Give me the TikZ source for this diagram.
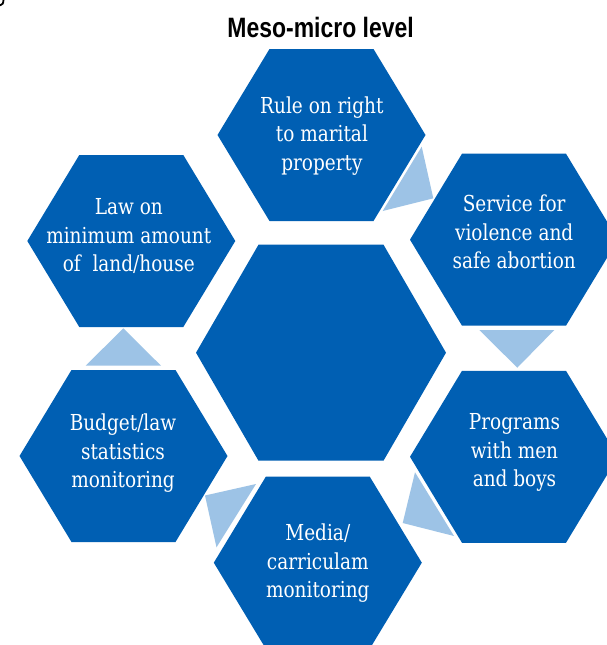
\documentclass[tikz,border=0pt]{standalone}
\usepackage{fontspec}
\setmainfont{DejaVu Serif}
\newfontfamily\labelfont[FakeStretch=0.84]{DejaVu Serif}
\newfontfamily\titlefont[FakeStretch=0.82]{Liberation Sans}

\definecolor{hexblue}{RGB}{0,95,179}
\definecolor{arrowblue}{RGB}{157,195,230}

% flat-topped hexagon: centre x, centre y, half width, half height
\newcommand\hexcell[4]{%
  \fill[hexblue, shift={(#1,#2)}]
    (#3,0) -- (#3/2,#4) -- (-#3/2,#4) -- (-#3,0) -- (-#3/2,-#4) -- (#3/2,-#4) -- cycle;}

\tikzset{
  hexlabel/.style={text=white, align=center, inner sep=0pt,
    font=\labelfont\fontsize{22}{28.5}\selectfont},
  titletext/.style={text=black, inner sep=0pt,
    font=\titlefont\bfseries\fontsize{28}{32}\selectfont},
  cyclearrow/.style={fill=arrowblue}
}

\begin{document}
\begin{tikzpicture}[x=1pt, y=-1pt]
  \useasboundingbox (0,0) rectangle (606,645);
  \fill[white] (0,0) rectangle (606,645);

  % stray mark in the corner
  \draw[black, line width=1.8pt] (3.5,0) .. controls (3,4) .. (0,5.5);

  % title
  \node[titletext, anchor=base] (title) at (320.6,37.5) {Meso-micro level};

  % central hexagon
  \hexcell{321}{352.7}{125}{108}
  \coordinate (core) at (321,352.7);

  % surrounding hexagons
  \hexcell{321.5}{135}{104}{86}
  \hexcell{514}{239.7}{104}{86}
  \hexcell{514}{456.8}{104}{86}
  \hexcell{317.8}{562.7}{104}{86}
  \hexcell{123.5}{456}{104}{86}
  \hexcell{131.3}{241}{104}{86}

  % arrow heads running clockwise between the hexagons
  \fill[cyclearrow] (421.7,146.7) -- (382.7,211) -- (433.3,198.3) -- cycle;
  \fill[cyclearrow] (479.3,330) -- (554.3,330) -- (517.3,367.7) -- cycle;
  \fill[cyclearrow] (415,472.3) -- (454,536) -- (402.7,523) -- cycle;
  \fill[cyclearrow] (256,484) -- (216.5,547.3) -- (205,495.5) -- cycle;
  \fill[cyclearrow] (85.7,365.7) -- (161,365.7) -- (123.3,328.3) -- cycle;

  % labels
  \node[hexlabel] (rule) at (321.9,136.0)
    {\strut Rule on right\\to marital\\property\strut};
  \node[hexlabel] (service) at (514.2,234.3)
    {\strut Service for\\violence and\\safe abortion\strut};
  \node[hexlabel] (programs) at (514.5,452.6)
    {\strut Programs\\with men\\and boys\strut};
  \node[hexlabel] (media) at (317.8,563.6)
    {\strut Media/\\carriculam\\monitoring\strut};
  \node[hexlabel] (budget) at (123,453.6)
    {\strut Budget/law\\statistics\\monitoring\strut};
  \node[hexlabel] (law) at (128.8,237.6)
    {\strut Law on\\minimum amount\\of~~land/house\strut};
\end{tikzpicture}
\end{document}
